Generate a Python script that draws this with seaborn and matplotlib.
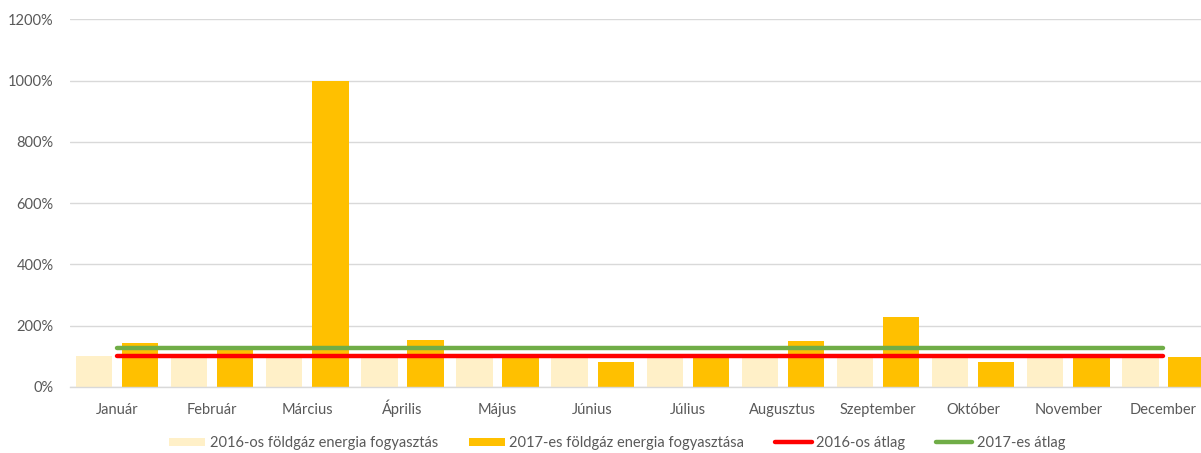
import matplotlib
matplotlib.use("Agg")
import matplotlib.pyplot as plt
import seaborn as sns
import pandas as pd
import numpy as np
from matplotlib.patches import Patch
from matplotlib.lines import Line2D

months = ["Január", "Február", "Március", "Április", "Május", "Június",
          "Július", "Augusztus", "Szeptember", "Október", "November", "December"]
vals_2016 = [100, 100, 100, 100, 100, 100, 100, 100, 100, 100, 100, 100]
vals_2017 = [142, 120, 1000, 153, 105, 83, 105, 150, 229, 83, 105, 97]
avg_2016 = [101] * 12
avg_2017 = [126] * 12
series_names = ["2016-os földgáz energia fogyasztás", "2017-es földgáz energia fogyasztása"]
line_names = ["2016-os átlag", "2017-es átlag"]
yticks = [0, 200, 400, 600, 800, 1000, 1200]

c16 = "#FFF0C8"
c17 = "#FFC000"
cred = "#FF0000"
cgreen = "#70AD47"
tcol = "#595959"

sns.set_theme(style="white")
plt.rcParams["font.family"] = ["Lato", "DejaVu Sans"]

df = pd.DataFrame({
    "month": months * 2,
    "value": vals_2016 + vals_2017,
    "series": [series_names[0]] * 12 + [series_names[1]] * 12,
})

fig = plt.figure(figsize=(12.01, 4.53), dpi=100)
W, H = 1201, 453
left, right, top, bottom = 69.5, 1211, 19.3, 387
ax = fig.add_axes([left / W, 1 - bottom / H, (right - left) / W, (bottom - top) / H])

sns.barplot(data=df, x="month", y="value", hue="series", order=months,
            palette=[c16, c17], width=0.97, gap=0.21, ax=ax, legend=False,
            saturation=1, edgecolor="none")

x = np.arange(12)
ldf = pd.DataFrame({"x": np.concatenate([x, x]),
                    "y": avg_2016 + avg_2017,
                    "s": [line_names[0]] * 12 + [line_names[1]] * 12})
sns.lineplot(data=ldf, x="x", y="y", hue="s", palette=[cred, cgreen],
             linewidth=3.2, ax=ax, legend=False, solid_capstyle="round")

ax.set_xlim(-0.5, 11.5)
ax.set_ylim(0, 1200)
ax.set_yticks(yticks)
ax.set_yticklabels([f"{v}%" for v in yticks])
ax.set_xticks(x)
ax.set_xticklabels(months, va="baseline")
ax.set_xlabel("")
ax.set_ylabel("")
ax.yaxis.grid(True, color="#D9D9D9", linewidth=1)
ax.set_axisbelow(True)
for s in ["top", "right", "left"]:
    ax.spines[s].set_visible(False)
ax.spines["bottom"].set_color("#D9D9D9")
ax.spines["bottom"].set_linewidth(1)
ax.tick_params(axis="both", length=0, labelsize=10.5, colors=tcol)
ax.tick_params(axis="y", pad=11.5)
ax.tick_params(axis="x", pad=19.4)

handles = [Patch(facecolor=c16, edgecolor="none"),
           Patch(facecolor=c17, edgecolor="none"),
           Line2D([0], [0], color=cred, linewidth=3.2),
           Line2D([0], [0], color=cgreen, linewidth=3.2)]
leg = fig.legend(handles, series_names + line_names, loc="center",
                 bbox_to_anchor=(617 / W, 1 - 443 / H), ncol=4, frameon=False,
                 fontsize=10.5, handlelength=2.5, handleheight=0.45,
                 columnspacing=2.1, handletextpad=0.3)
for t in leg.get_texts():
    t.set_color(tcol)

fig.savefig("out.png", dpi=100)
